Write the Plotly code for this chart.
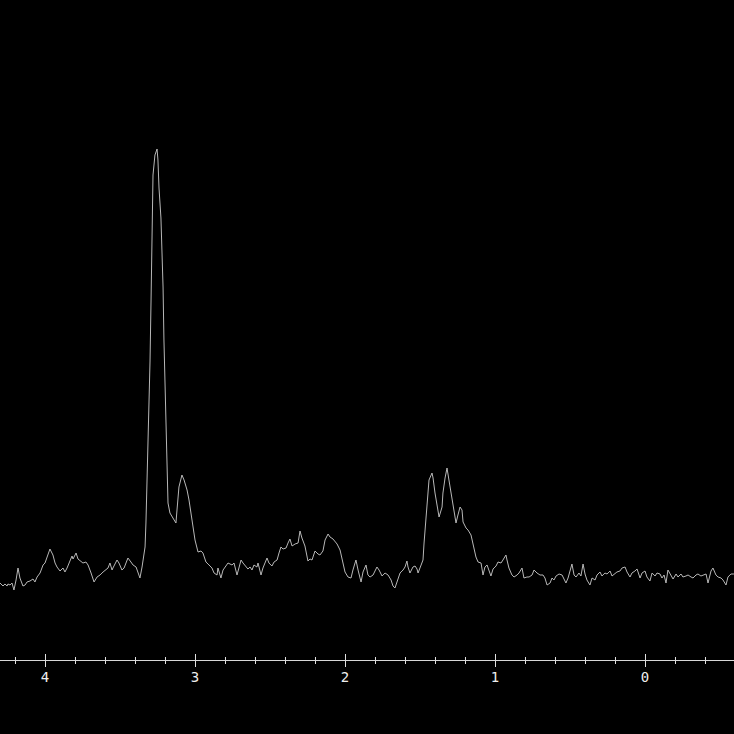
import plotly.graph_objects as go

# chemical shift (ppm) and signal intensity (arbitrary units)
ppm = [4.300, 4.280, 4.267, 4.253, 4.247, 4.233, 4.220, 4.207, 4.193, 4.180, 4.167, 4.147, 4.133, 4.120, 4.100, 4.080,
       4.067, 4.053, 4.033, 4.013, 4.000, 3.987, 3.967, 3.947, 3.933, 3.920, 3.900, 3.880, 3.867, 3.853, 3.833, 3.820,
       3.813, 3.793, 3.780, 3.760, 3.747, 3.727, 3.713, 3.693, 3.673, 3.653, 3.633, 3.613, 3.593, 3.580, 3.567, 3.553,
       3.547, 3.527, 3.520, 3.507, 3.487, 3.473, 3.460, 3.447, 3.427, 3.413, 3.393, 3.380, 3.367, 3.353, 3.347, 3.333,
       3.327, 3.320, 3.313, 3.300, 3.293, 3.287, 3.280, 3.267, 3.253, 3.247, 3.240, 3.227, 3.220, 3.213, 3.207, 3.193,
       3.187, 3.180, 3.167, 3.147, 3.127, 3.120, 3.107, 3.087, 3.073, 3.053, 3.040, 3.020, 3.000, 2.980, 2.960, 2.947,
       2.927, 2.913, 2.887, 2.873, 2.853, 2.847, 2.827, 2.813, 2.793, 2.780, 2.753, 2.740, 2.720, 2.707, 2.693, 2.680,
       2.660, 2.647, 2.633, 2.620, 2.607, 2.587, 2.580, 2.560, 2.547, 2.533, 2.520, 2.507, 2.487, 2.473, 2.453, 2.440,
       2.427, 2.413, 2.393, 2.380, 2.367, 2.353, 2.333, 2.313, 2.300, 2.287, 2.267, 2.247, 2.233, 2.220, 2.200, 2.180,
       2.167, 2.147, 2.133, 2.113, 2.100, 2.080, 2.053, 2.033, 2.020, 2.000, 1.980, 1.960, 1.947, 1.927, 1.913, 1.893,
       1.880, 1.860, 1.847, 1.833, 1.813, 1.787, 1.773, 1.753, 1.733, 1.713, 1.693, 1.680, 1.667, 1.653, 1.633, 1.613,
       1.600, 1.587, 1.580, 1.567, 1.547, 1.533, 1.520, 1.513, 1.493, 1.480, 1.473, 1.460, 1.453, 1.440, 1.420, 1.413,
       1.400, 1.387, 1.373, 1.353, 1.347, 1.333, 1.320, 1.307, 1.287, 1.273, 1.260, 1.247, 1.233, 1.220, 1.213, 1.193,
       1.180, 1.160, 1.147, 1.127, 1.113, 1.093, 1.080, 1.067, 1.053, 1.040, 1.027, 1.013, 0.993, 0.980, 0.960, 0.947,
       0.927, 0.920, 0.907, 0.887, 0.873, 0.853, 0.840, 0.820, 0.807, 0.787, 0.773, 0.753, 0.740, 0.720, 0.700, 0.680,
       0.667, 0.653, 0.633, 0.620, 0.607, 0.593, 0.573, 0.553, 0.540, 0.527, 0.513, 0.500, 0.487, 0.473, 0.460, 0.440,
       0.427, 0.413, 0.400, 0.387, 0.367, 0.353, 0.333, 0.320, 0.300, 0.287, 0.267, 0.253, 0.233, 0.220, 0.200, 0.187,
       0.167, 0.153, 0.133, 0.120, 0.100, 0.087, 0.067, 0.053, 0.033, 0.020, 0.000, -0.013, -0.033, -0.047, -0.067, -0.080,
       -0.100, -0.113, -0.127, -0.140, -0.153, -0.173, -0.187, -0.207, -0.220, -0.240, -0.253, -0.273, -0.287, -0.307, -0.320, -0.340,
       -0.353, -0.373, -0.387, -0.407, -0.420, -0.440, -0.453, -0.473, -0.487, -0.507, -0.520, -0.540, -0.553, -0.573, -0.593]

intensity = [7, 4, 6, 4, 6, 5, 7, 0, 10, 22, 12, 4, 5, 8, 9, 11,
             8, 13, 17, 25, 27, 33, 41, 35, 27, 23, 19, 22, 18, 22, 30, 34,
             31, 37, 31, 28, 27, 28, 25, 17, 8, 13, 15, 18, 20, 22, 27, 20,
             22, 27, 30, 27, 20, 22, 27, 32, 28, 25, 23, 18, 12, 23, 30, 43,
             67, 107, 160, 228, 290, 370, 415, 435, 441, 430, 402, 372, 343, 303, 250, 168,
             113, 87, 77, 72, 67, 80, 103, 115, 110, 100, 90, 70, 50, 38, 39, 37,
             28, 26, 22, 17, 15, 22, 12, 20, 25, 27, 25, 27, 15, 22, 30, 27,
             23, 21, 23, 20, 25, 23, 27, 15, 22, 27, 32, 27, 24, 28, 30, 37,
             43, 41, 42, 47, 51, 44, 46, 47, 59, 52, 44, 29, 31, 30, 39, 36,
             35, 39, 50, 56, 53, 51, 46, 40, 30, 18, 13, 12, 20, 30, 20, 8,
             18, 25, 15, 13, 15, 23, 20, 14, 17, 15, 10, 4, 2, 9, 17, 20,
             23, 29, 23, 17, 23, 24, 21, 17, 24, 30, 47, 70, 90, 110, 117, 112,
             97, 83, 73, 83, 97, 112, 122, 110, 93, 80, 67, 75, 83, 80, 68, 62,
             60, 55, 45, 33, 28, 27, 15, 23, 25, 20, 14, 21, 24, 28, 27, 30,
             35, 30, 22, 15, 13, 15, 17, 22, 12, 13, 13, 15, 20, 17, 15, 15,
             12, 5, 7, 12, 10, 14, 16, 15, 10, 7, 12, 20, 26, 15, 13, 17,
             14, 26, 16, 10, 5, 12, 10, 15, 18, 14, 17, 16, 19, 14, 17, 18,
             19, 22, 23, 18, 13, 17, 19, 21, 12, 17, 19, 13, 9, 17, 14, 17,
             16, 12, 15, 7, 20, 14, 11, 16, 13, 16, 13, 14, 15, 13, 12, 15,
             16, 14, 15, 16, 7, 19, 22, 15, 13, 12, 10, 5, 13, 16, 16]

tick_values = [4, 3, 2, 1, 0]
tick_labels = ["4", "3", "2", "1", "0"]

fig = go.Figure()
fig.add_trace(go.Scatter(x=ppm, y=intensity, mode="lines",
                         line=dict(color="#b8b8b8", width=1), hoverinfo="skip"))
fig.add_trace(go.Scatter(x=[], y=[], xaxis="x2", yaxis="y", showlegend=False))

xr = [4.3, -0.5933]
common = dict(range=xr, showgrid=False, zeroline=False, tickmode="array",
              tickvals=tick_values, ticklen=6, tickwidth=1, tickcolor="#e0e0e0",
              showline=True, linecolor="#d8d8d8", linewidth=1,
              minor=dict(dtick=0.2, tick0=0, ticklen=3, tickwidth=1, tickcolor="#e0e0e0", showgrid=False))

fig.update_layout(
    width=734, height=734,
    margin=dict(l=0, r=0, t=0, b=74),
    paper_bgcolor="black", plot_bgcolor="black",
    showlegend=False,
    xaxis=dict(**common, ticktext=tick_labels, ticks="outside", ticklabelstandoff=-2,
               tickfont=dict(family="DejaVu Sans Mono", size=14, color="#eeeeee")),
    xaxis2=dict(**common, overlaying="x", anchor="y", side="bottom", ticks="inside",
                showticklabels=False),
    yaxis=dict(range=[-70, 590], visible=False, fixedrange=True),
)
fig.update_layout(xaxis_minor_ticks="outside", xaxis2_minor_ticks="inside")

fig.write_html("out.html", config={"displayModeBar": False},
               post_script="document.body.style.margin='0';document.body.style.background='black';")
